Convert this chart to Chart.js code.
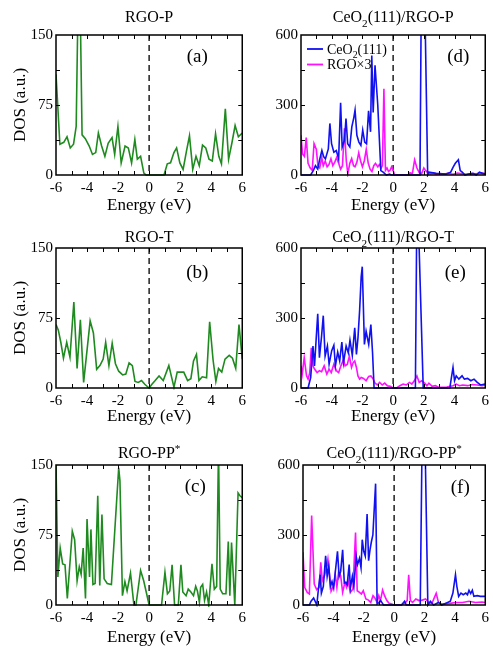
<!DOCTYPE html>
<html lang="en">
<head>
<meta charset="UTF-8">
<title>DOS of RGO and CeO2(111)/RGO</title>
<script src="https://cdn.jsdelivr.net/npm/chart.js"></script>
<style>
    body { margin: 0; background: #fff; width: 493px; height: 647px; overflow: hidden; position: relative; }
    canvas { position: absolute; }
</style>
</head>
<body>
<script>
// ---- data (energy in eV, DOS in a.u.) ----
// (a) RGO-P
const eA = [-6.0,-5.75,-5.5,-5.29,-5.08,-4.87,-4.70,-4.51,-4.32,-4.11,-3.86,-3.65,-3.44,-3.27,-3.06,-2.85,-2.64,-2.39,-2.22,-2.01,-1.80,-1.55,-1.34,-1.13,-0.92,-0.76,-0.55,-0.34,-0.19,0.0,0.96,1.17,1.38,1.6,1.77,1.98,2.19,2.4,2.6,2.81,3.02,3.23,3.44,3.65,3.86,4.07,4.28,4.49,4.66,4.91,5.12,5.33,5.54,5.75,6.0];
const dosA = [108,33,35,41,29,33,52,260,43,39,31,22,24,45,31,20,34,40,22,52,13,31,29,13,38,17,20,2,0,0,0,12,13,24,29,13,6,25,42,6,20,10,32,29,17,15,44,20,12,71,17,34,53,41,45];
// (b) RGO-T
const eB = [-6.0,-5.85,-5.69,-5.52,-5.31,-5.1,-4.85,-4.64,-4.43,-4.22,-3.8,-3.59,-3.38,-3.17,-2.96,-2.8,-2.59,-2.38,-2.17,-1.96,-1.71,-1.5,-1.29,-1.08,-0.91,-0.7,-0.49,-0.28,0.0,0.18,0.39,0.64,0.91,1.27,1.6,1.81,2.23,2.48,2.69,2.86,3.05,3.21,3.42,3.7,3.9,4.12,4.3,4.47,4.68,4.89,5.16,5.37,5.58,5.79,6.0];
const dosB = [68,62,49,32,49,33,92,21,73,6,72,59,20,24,31,49,24,48,26,18,14,15,27,24,7,6,8,4,0,4,8,13,8,24,1,17,17,8,10,29,36,8,12,11,71,30,7,21,17,31,35,32,21,68,31];
// (c) RGO-PP*
const eC = [-6.0,-5.88,-5.73,-5.57,-5.42,-5.27,-4.95,-4.8,-4.64,-4.5,-4.38,-4.25,-4.1,-4.0,-3.84,-3.75,-3.62,-3.48,-3.31,-3.18,-3.04,-2.9,-2.7,-2.43,-1.96,-1.88,-1.72,-1.56,-1.42,-1.2,-0.98,-0.85,-0.55,-0.35,0.0,0.8,1.02,1.18,1.33,1.48,1.64,1.88,2.05,2.17,2.38,2.52,2.69,2.86,3.0,3.11,3.24,3.32,3.45,3.57,3.7,3.84,4.05,4.2,4.35,4.47,4.58,4.74,4.95,5.1,5.2,5.31,5.52,5.73,5.85,6.0];
const dosC = [152,30,61,44,43,7,79,70,26,41,33,61,7,92,30,81,22,23,117,21,97,28,23,22,147,133,10,25,15,34,0,0,37,26,0,0,35,12,15,43,0,0,43,14,10,17,14,10,20,15,3,19,22,5,14,0,44,17,20,170,17,12,12,68,10,67,0,120,117,115];

// (d) CeO2(111)/RGO-P
const eDce = [-6.0,-5.37,-5.2,-5.06,-4.91,-4.79,-4.64,-4.53,-4.41,-4.22,-4.12,-4.01,-3.86,-3.7,-3.55,-3.42,-3.32,-3.17,-3.07,-2.96,-2.82,-2.69,-2.56,-2.48,-2.36,-2.23,-2.1,-1.98,-1.85,-1.73,-1.6,-1.47,-1.39,-1.3,-1.18,-1.0,-0.8,-0.65,-0.44,-0.23,-0.13,1.75,1.85,2.05,2.25,2.33,2.81,3.44,3.75,3.9,4.05,4.25,4.37,4.5,4.68,4.9,5.2,5.41,5.62,5.83,6.0];
const dosDce = [0,0,19,40,26,65,105,79,69,112,221,134,98,105,69,310,120,149,242,134,120,206,246,278,170,141,127,192,141,134,275,185,512,268,470,300,19,12,0,4,0,0,900,800,0,12,7,4,12,33,50,65,19,12,0,4,7,0,12,7,4];
const eDrgo = [-6.0,-5.9,-5.78,-5.66,-5.54,-5.4,-5.27,-5.15,-5.0,-4.9,-4.78,-4.65,-4.55,-4.42,-4.3,-4.18,-4.05,-3.93,-3.8,-3.68,-3.55,-3.42,-3.3,-3.17,-3.05,-2.95,-2.82,-2.7,-2.58,-2.48,-2.36,-2.24,-2.12,-2.0,-1.88,-1.75,-1.62,-1.5,-1.38,-1.26,-1.15,-1.0,-0.9,-0.78,-0.7,-0.6,-0.5,-0.4,-0.3,-0.2,-0.1,0.0,0.1,1.0,1.1,1.25,1.4,1.55,1.7,1.85,2.0,2.1,2.25,2.4,2.6,2.8,3.0,3.3,3.6,3.9,4.2,4.5,4.8,5.1,5.4,5.7,6.0];
const dosDrgo = [170,90,80,160,50,30,20,135,110,40,30,75,40,60,35,45,70,40,55,75,50,25,40,200,60,5,50,70,40,35,55,95,60,35,60,110,50,25,15,40,50,35,45,30,40,370,20,30,15,20,35,20,0,0,10,5,65,30,10,5,30,20,10,5,8,3,6,4,7,3,8,5,3,6,5,8,6];
// (e) CeO2(111)/RGO-T
const eEce = [-6.0,-5.54,-5.37,-5.22,-5.12,-4.91,-4.8,-4.66,-4.55,-4.43,-4.28,-4.17,-4.0,-3.86,-3.76,-3.61,-3.48,-3.34,-3.23,-3.06,-2.92,-2.81,-2.66,-2.5,-2.39,-2.29,-2.18,-2.08,-2.01,-1.87,-1.76,-1.59,-1.45,-1.34,-1.24,1.45,1.55,1.65,1.96,3.69,3.9,4.0,4.11,4.28,4.49,4.64,4.85,5.06,5.27,5.48,5.69,6.0];
const dosEce = [0,0,45,180,95,318,130,222,310,137,180,102,160,183,95,154,116,197,109,180,151,205,140,258,144,215,335,477,520,187,243,187,272,151,0,0,800,700,0,0,88,31,52,38,52,38,41,31,38,24,13,17];
const eErgo = [-6.0,-5.92,-5.79,-5.64,-5.54,-5.43,-5.33,-5.22,-5.12,-4.95,-4.8,-4.66,-4.49,-4.32,-4.17,-4.03,-3.86,-3.69,-3.55,-3.4,-3.23,-3.13,-2.98,-2.85,-2.71,-2.6,-2.5,-2.39,-2.29,-2.18,-2.08,-1.93,-1.76,-1.59,-1.45,-1.3,-1.18,-1.03,-0.88,-0.71,-0.55,-0.38,-0.19,0.0,0.23,0.44,0.65,0.86,1.07,1.22,1.38,1.55,1.7,1.85,2.0,2.2,2.33,2.54,2.75,2.96,3.5,3.9,4.11,4.32,4.53,4.85,5.16,5.48,5.79,6.0];
const dosErgo = [95,60,130,52,38,66,172,95,81,66,74,70,95,60,81,66,102,74,66,95,123,95,102,137,88,109,116,88,52,38,45,41,31,50,52,38,21,13,24,13,21,10,7,0,0,10,17,13,24,17,31,52,24,31,24,10,21,7,10,3,4,10,17,10,13,10,15,13,10,13];
// (f) CeO2(111)/RGO-PP*
const eFce = [-6.0,-5.58,-5.47,-5.3,-5.09,-5.0,-4.87,-4.79,-4.66,-4.51,-4.41,-4.3,-4.2,-4.09,-3.98,-3.88,-3.73,-3.62,-3.52,-3.39,-3.28,-3.18,-3.09,-2.96,-2.88,-2.75,-2.65,-2.5,-2.41,-2.28,-2.18,-2.1,-2.0,-1.9,-1.78,-1.68,-1.58,-1.5,-1.4,-1.22,-1.12,-1.0,-0.9,-0.8,-0.7,0.48,0.69,0.8,1.72,1.84,2.05,2.22,2.39,2.6,2.92,3.13,3.45,3.7,3.87,4.04,4.13,4.25,4.4,4.55,4.72,4.83,4.93,5.04,5.15,5.25,5.47,5.68,6.0];
const dosFce = [0,0,16,30,0,59,130,51,80,211,123,166,80,101,73,137,230,123,144,237,94,97,87,173,73,123,80,209,173,200,160,280,230,210,390,190,240,270,300,520,5,10,20,10,0,0,16,0,0,700,650,0,16,0,11,0,9,16,51,130,80,37,51,44,51,44,63,49,63,37,40,37,37];
const eFrgo = [-6.0,-5.89,-5.72,-5.58,-5.43,-5.26,-5.1,-4.94,-4.83,-4.73,-4.58,-4.45,-4.36,-4.24,-4.15,-3.98,-3.88,-3.77,-3.66,-3.52,-3.39,-3.24,-3.13,-3.03,-2.88,-2.71,-2.54,-2.43,-2.28,-2.16,-2.03,-1.86,-1.69,-1.54,-1.39,-1.27,-1.12,-1.01,-0.9,-0.76,-0.63,-0.48,-0.33,-0.16,0.0,0.48,0.69,0.86,0.96,1.07,1.22,1.43,1.64,1.86,2.07,2.28,2.49,2.77,2.92,3.13,3.66,4.08,4.51,4.93,5.36,5.78,6.0];
const dosFrgo = [226,76,54,47,383,90,66,76,183,104,126,161,197,119,59,83,133,76,140,126,54,97,76,104,54,69,311,61,54,47,61,26,21,11,40,30,11,40,19,64,40,19,7,4,0,0,7,19,129,19,11,26,19,21,26,11,7,50,11,4,7,11,11,16,11,13,11];

const SERIF = "'Liberation Serif', 'Times New Roman', serif";
const GREEN = '#1f8a1f', BLUE = '#1010f0', MAGENTA = '#ff10ff';

function pts(xs, ys) {
    return xs.map((x, i) => ({ x: x, y: ys[i] }));
}

// text with _x (subscript) and ^x (superscript) markers
function drawRich(ctx, str, x, y, size, align) {
    const parts = [];
    for (let i = 0; i < str.length; i++) {
        const c = str[i];
        if ((c === '_' || c === '^') && i + 1 < str.length) {
            parts.push({ t: str[i + 1], k: c });
            i++;
        } else if (parts.length && !parts[parts.length - 1].k) {
            parts[parts.length - 1].t += c;
        } else {
            parts.push({ t: c, k: '' });
        }
    }
    let w = 0;
    parts.forEach(p => {
        ctx.font = (p.k ? size * 0.7 : size) + 'px ' + SERIF;
        p.w = ctx.measureText(p.t).width;
        w += p.w;
    });
    let cx = align === 'center' ? x - w / 2 : x;
    const base = y + size * 0.33;
    ctx.textAlign = 'left';
    ctx.textBaseline = 'alphabetic';
    parts.forEach(p => {
        ctx.font = (p.k ? size * 0.7 : size) + 'px ' + SERIF;
        const dy = p.k === '_' ? size * 0.28 : (p.k === '^' ? -size * 0.38 : 0);
        ctx.fillText(p.t, cx, base + dy);
        cx += p.w;
    });
}

// frame, inward ticks, dashed Fermi level, title, panel tag, legend
const decor = {
    id: 'decor',
    beforeDatasetsDraw(chart) {
        const { ctx, chartArea: a, scales: { x } } = chart;
        const x0 = x.getPixelForValue(0);
        ctx.save();
        ctx.strokeStyle = '#111';
        ctx.lineWidth = 1.4;
        ctx.setLineDash([6, 4]);
        ctx.beginPath();
        ctx.moveTo(x0, a.top);
        ctx.lineTo(x0, a.bottom);
        ctx.stroke();
        ctx.restore();
    },
    afterDatasetsDraw(chart, args, o) {
        const { ctx, chartArea: a, scales: { x, y } } = chart;
        ctx.save();
        ctx.strokeStyle = '#000';
        ctx.lineWidth = 1;
        ctx.beginPath();
        for (let v = -5; v <= 5; v++) {
            const px = Math.round(x.getPixelForValue(v)) + 0.5;
            ctx.moveTo(px, a.bottom); ctx.lineTo(px, a.bottom - 4);
            ctx.moveTo(px, a.top); ctx.lineTo(px, a.top + 4);
        }
        const step = y.max / 4;
        for (let v = step; v < y.max; v += step) {
            const py = Math.round(y.getPixelForValue(v)) + 0.5;
            ctx.moveTo(a.left, py); ctx.lineTo(a.left + 4, py);
            ctx.moveTo(a.right, py); ctx.lineTo(a.right - 4, py);
        }
        ctx.stroke();
        ctx.lineWidth = 1.5;
        ctx.strokeRect(a.left, a.top, a.right - a.left, a.bottom - a.top);

        ctx.fillStyle = '#000';
        drawRich(ctx, o.title, (a.left + a.right) / 2, a.top + o.titleDy, 16, 'center');

        ctx.font = '19px ' + SERIF;
        ctx.textAlign = 'center';
        ctx.textBaseline = 'middle';
        ctx.fillText(o.tag, a.right - o.tagDx, a.top + o.tagDy);

        if (o.legend) {
            chart.data.datasets.forEach((ds, i) => {
                const ly = a.top + 14 + i * 15.5;
                ctx.strokeStyle = ds.borderColor;
                ctx.lineWidth = 1.8;
                ctx.beginPath();
                ctx.moveTo(a.left + 6, ly);
                ctx.lineTo(a.left + 22, ly);
                ctx.stroke();
                ctx.fillStyle = '#000';
                drawRich(ctx, ds.label, a.left + 26, ly, 14, 'left');
            });
        }
        ctx.restore();
    }
};

function makePanel(p) {
    const cv = document.createElement('canvas');
    cv.width = p.w;
    cv.height = 220;
    cv.style.left = p.left + 'px';
    cv.style.top = p.top + 'px';
    document.body.appendChild(cv);

    new Chart(cv, {
        type: 'line',
        data: {
            datasets: p.series.map(s => ({
                label: s.label,
                data: pts(s.e, s.dos),
                borderColor: s.color,
                borderWidth: 1.6,
                pointRadius: 0,
                tension: 0,
                clip: { left: 0, top: 0, right: 0, bottom: 2 }
            }))
        },
        options: {
            responsive: false,
            animation: false,
            devicePixelRatio: 1,
            layout: { padding: { left: 0, top: 35, right: p.padRight, bottom: 0 } },
            plugins: {
                legend: { display: false },
                tooltip: { enabled: false },
                decor: { title: p.title, tag: p.tag, titleDy: p.titleDy, tagDx: p.tagDx, tagDy: p.tagDy, legend: p.legend }
            },
            scales: {
                x: {
                    type: 'linear', min: -6, max: 6,
                    grid: { display: false, drawTicks: false },
                    border: { display: false },
                    ticks: { stepSize: 2, padding: 4, color: '#000', maxRotation: 0, font: { family: SERIF, size: 15 } },
                    title: { display: true, text: 'Energy (eV)', color: '#000', font: { family: SERIF, size: 17 },
                             padding: { top: 0, bottom: p.xTitlePad } },
                    afterFit(s) { s.height = 45; }
                },
                y: {
                    min: 0, max: p.ymax,
                    grid: { display: false, drawTicks: false },
                    border: { display: false },
                    ticks: { stepSize: p.ymax / 2, padding: 3, color: '#000', font: { family: SERIF, size: 15 } },
                    title: { display: p.yTitle, text: 'DOS (a.u.)', color: '#000', font: { family: SERIF, size: 17 },
                             padding: { top: 10.8, bottom: 0 } },
                    afterFit(s) { s.width = p.yWidth; }
                }
            }
        },
        plugins: [decor]
    });
}

const leftCol = { left: 0, w: 250, padRight: 3, yWidth: 56, yTitle: true, ymax: 150 };
const rightCol = { left: 245, w: 248, padRight: 1, yWidth: 56, yTitle: false, ymax: 600 };

makePanel(Object.assign({}, leftCol, { top: 0, xTitlePad: 3.8, titleDy: -18, title: 'RGO-P', tag: '(a)', tagDx: 45, tagDy: 22,
    series: [{ label: 'RGO-P', e: eA, dos: dosA, color: GREEN }] }));
makePanel(Object.assign({}, leftCol, { top: 213, xTitlePad: 5.8, titleDy: -11, title: 'RGO-T', tag: '(b)', tagDx: 45, tagDy: 25,
    series: [{ label: 'RGO-T', e: eB, dos: dosB, color: GREEN }] }));
makePanel(Object.assign({}, leftCol, { top: 430, xTitlePad: 1.8, titleDy: -12, title: 'RGO-PP^*', tag: '(c)', tagDx: 47, tagDy: 22,
    series: [{ label: 'RGO-PP*', e: eC, dos: dosC, color: GREEN }] }));

makePanel(Object.assign({}, rightCol, { top: 0, xTitlePad: 3.8, titleDy: -18, title: 'CeO_2(111)/RGO-P', tag: '(d)', tagDx: 27, tagDy: 22, legend: true,
    series: [{ label: 'CeO_2(111)', e: eDce, dos: dosDce, color: BLUE }, { label: 'RGO×3', e: eDrgo, dos: dosDrgo, color: MAGENTA }] }));
makePanel(Object.assign({}, rightCol, { top: 213, xTitlePad: 5.8, titleDy: -11, title: 'CeO_2(111)/RGO-T', tag: '(e)', tagDx: 30, tagDy: 25,
    series: [{ label: 'CeO_2(111)', e: eEce, dos: dosEce, color: BLUE }, { label: 'RGO×3', e: eErgo, dos: dosErgo, color: MAGENTA }] }));
makePanel(Object.assign({}, rightCol, { top: 430, yWidth: 58, xTitlePad: 1.8, titleDy: -12, title: 'CeO_2(111)/RGO-PP^*', tag: '(f)', tagDx: 25, tagDy: 23,
    series: [{ label: 'CeO_2(111)', e: eFce, dos: dosFce, color: BLUE }, { label: 'RGO×3', e: eFrgo, dos: dosFrgo, color: MAGENTA }] }));
</script>
</body>
</html>
